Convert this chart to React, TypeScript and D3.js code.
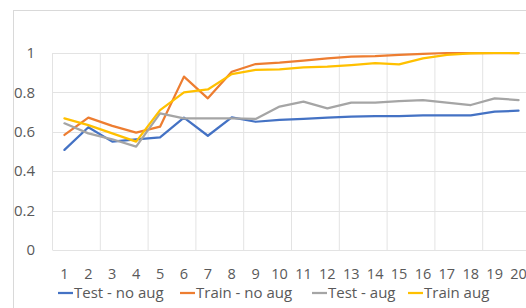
import React from "react";
import * as d3 from "d3";

const epochs = [1, 2, 3, 4, 5, 6, 7, 8, 9, 10, 11, 12, 13, 14, 15, 16, 17, 18, 19, 20];
const testNoAug = [0.508, 0.623, 0.55, 0.562, 0.572, 0.672, 0.58, 0.673, 0.651, 0.66, 0.665, 0.672, 0.677, 0.68, 0.68, 0.683, 0.683, 0.683, 0.702, 0.707];
const trainNoAug = [0.584, 0.672, 0.63, 0.596, 0.626, 0.88, 0.77, 0.905, 0.944, 0.951, 0.961, 0.973, 0.981, 0.984, 0.99, 0.995, 1.0, 1.0, 1.0, 1.0];
const testAug = [0.643, 0.592, 0.562, 0.525, 0.694, 0.668, 0.668, 0.668, 0.665, 0.728, 0.753, 0.719, 0.748, 0.748, 0.756, 0.761, 0.748, 0.736, 0.77, 0.761];
const trainAug = [0.668, 0.634, 0.592, 0.55, 0.71, 0.8, 0.815, 0.893, 0.914, 0.917, 0.927, 0.931, 0.939, 0.948, 0.942, 0.973, 0.99, 0.998, 1.0, 1.0];
const yTicks = [0, 0.2, 0.4, 0.6, 0.8, 1];

const series = [
  { name: "Test - no aug", values: testNoAug, color: "#4472C4", lx: 58 },
  { name: "Train - no aug", values: trainNoAug, color: "#ED7D31", lx: 180 },
  { name: "Test - aug", values: testAug, color: "#A5A5A5", lx: 312 },
  { name: "Train aug", values: trainAug, color: "#FFC000", lx: 408 },
];

const App = () => {
  const x = d3.scaleLinear().domain([0.5, 20.5]).range([52.5, 530.5]);
  const y = d3.scaleLinear().domain([0, 1]).range([250, 53]);
  const line = d3
    .line<number>()
    .x((d, i) => x(epochs[i]))
    .y((d) => y(d));

  // vertical gridlines every second category boundary
  const vGrid = d3.range(0.5, 21, 2);
  const font = "'Open Sans', sans-serif";

  return (
    <svg
      width={526}
      height={308}
      style={{ position: "fixed", left: 0, top: 0, background: "#fff" }}
    >
      <rect x={13.5} y={10.5} width={600} height={400} fill="#fff" stroke="#d9d9d9" />
      {yTicks.map((t) => (
        <line key={"h" + t} x1={x(0.5)} x2={x(20.5)} y1={Math.round(y(t)) + 0.5} y2={Math.round(y(t)) + 0.5} stroke="#e3e3e3" />
      ))}
      {vGrid.map((v) => (
        <line key={"v" + v} x1={x(v)} x2={x(v)} y1={y(1)} y2={y(0)} stroke="#e3e3e3" />
      ))}
      {yTicks.map((t) => (
        <text key={"yt" + t} x={35} y={y(t)} dy="0.35em" textAnchor="end" fontSize={15} fill="#595959" fontFamily={font}>
          {t}
        </text>
      ))}
      {epochs.map((e) => (
        <text key={"xt" + e} x={x(e)} y={274} dy="0.35em" textAnchor="middle" fontSize={14.5} fill="#595959" fontFamily={font}>
          {e}
        </text>
      ))}
      {series.map((s) => (
        <path key={s.name} d={line(s.values) || ""} fill="none" stroke={s.color} strokeWidth={2.25} strokeLinejoin="round" strokeLinecap="round" />
      ))}
      {series.map((s) => (
        <g key={"lg" + s.name}>
          <line x1={s.lx} x2={s.lx + 15} y1={293} y2={293} stroke={s.color} strokeWidth={2.25} />
          <text x={s.lx + 16} y={293} dy="0.35em" fontSize={15} fill="#595959" fontFamily={font}>
            {s.name}
          </text>
        </g>
      ))}
    </svg>
  );
};

export default App;
